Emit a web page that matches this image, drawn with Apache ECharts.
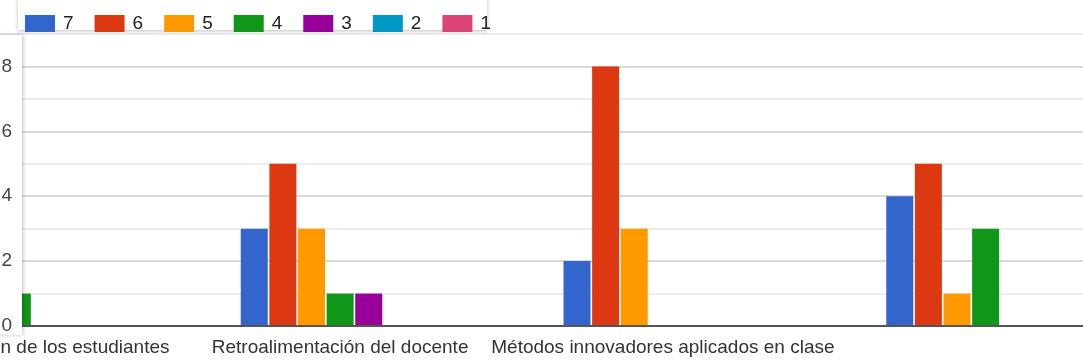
<!DOCTYPE html>
<html>
<head>
<meta charset="utf-8">
<script src="https://cdn.jsdelivr.net/npm/echarts@6/dist/echarts.min.js"></script>
<style>
  html, body { margin: 0; padding: 0; background: #fff; overflow: hidden; width: 1083px; height: 363px; }
  /* el grafico original esta desplazado: la primera categoria queda cortada a la izquierda */
  #chart { position: absolute; left: -144px; top: 0; width: 1291px; height: 363px; }
</style>
</head>
<body>
<div id="chart"></div>
<script>
// categorias (la primera queda cortada a la izquierda, la ultima sin etiqueta)
const categories = [
  'Nivel de atención de los estudiantes',
  'Retroalimentación del docente',
  'Métodos innovadores aplicados en clase',
  'Uso de recursos didácticos'
]
const seriesNames = ['7', '6', '5', '4', '3', '2', '1']
const colors = ['#3366cc', '#dc3912', '#ff9900', '#109618', '#990099', '#0099c6', '#dd4477']

// valores por puntuacion (13 respuestas por categoria)
const score7 = [4, 3, 2, 4]
const score6 = [6, 5, 8, 5]
const score5 = [2, 3, 3, 1]
const score4 = [1, 1, 0, 3]
const score3 = [0, 1, 0, 0]
const score2 = [0, 0, 0, 0]
const score1 = [0, 0, 0, 0]
const values = [score7, score6, score5, score4, score3, score2, score1]

const yTicks = [0, 2, 4, 6, 8]

const shift = 144 // desplazamiento del contenedor
const font = 'Arial, "Liberation Sans", sans-serif'
const chart = echarts.init(document.getElementById('chart'))

const series = seriesNames.map((name, i) => ({
  name,
  type: 'bar',
  data: values[i],
  barWidth: 27,
  barGap: '6%',
  itemStyle: { color: colors[i] }
}))

chart.setOption({
  animation: false,
  color: colors,
  grid: { left: 0, right: 0, top: 34, bottom: 37, containLabel: false },
  legend: {
    data: seriesNames,
    left: 20 + shift,
    top: 9,
    icon: 'rect',
    itemWidth: 30,
    itemHeight: 17,
    itemGap: 21,
    textStyle: { fontFamily: font, fontSize: 19, color: '#222', padding: [0, 0, 0, 3] },
    z: 10
  },
  xAxis: {
    type: 'category',
    data: categories,
    axisTick: { show: false },
    axisLine: { lineStyle: { color: '#555', width: 2 } },
    axisLabel: {
      interval: 0,
      margin: 12,
      fontFamily: font,
      fontSize: 19,
      color: '#333',
      formatter: (v, idx) => (idx === categories.length - 1 ? '' : v)
    },
    z: 3
  },
  yAxis: [
    {
      type: 'value',
      min: 0,
      max: 9,
      interval: 1,
      axisLine: { show: false },
      axisTick: { show: false },
      axisLabel: { show: false },
      splitLine: { lineStyle: { color: ['#d9d9d9', '#ededed'], width: 2 } }
    },
    {
      type: 'value',
      position: 'left',
      offset: -(20 + shift),
      min: 0,
      max: 9,
      interval: 1,
      z: 12,
      axisLine: { show: false },
      axisTick: { show: false },
      splitLine: { show: false },
      axisLabel: {
        margin: 8,
        fontFamily: font,
        fontSize: 19,
        color: '#444',
        formatter: v => (yTicks.includes(v) ? String(v) : '')
      }
    }
  ],
  graphic: [
    {
      type: 'rect',
      z: 9,
      shape: { x: 18 + shift, y: -5, width: 469, height: 35 },
      style: { fill: '#fff', shadowBlur: 4, shadowColor: 'rgba(0,0,0,0.25)', shadowOffsetY: 1 }
    },
    {
      type: 'rect',
      z: 11,
      shape: { x: shift - 6, y: 35, width: 28, height: 300 },
      style: { fill: '#fff', shadowBlur: 4, shadowColor: 'rgba(0,0,0,0.25)', shadowOffsetX: 1 }
    }
  ],
  series
})
</script>
</body>
</html>
